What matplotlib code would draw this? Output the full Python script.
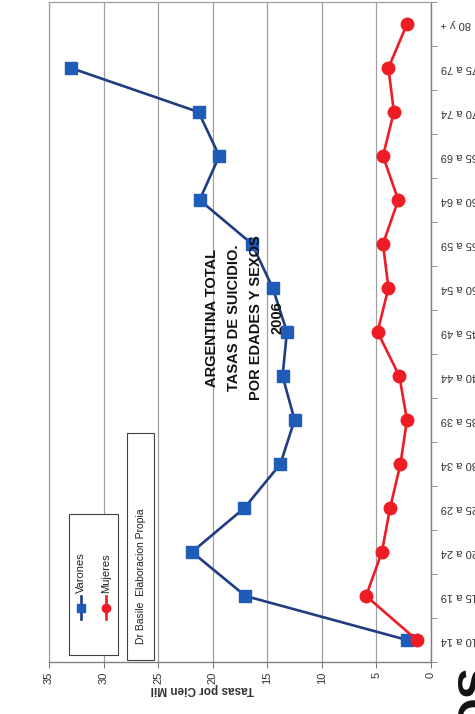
import numpy as np
import matplotlib
matplotlib.use('Agg')
import matplotlib.pyplot as plt
from matplotlib.lines import Line2D
from matplotlib.patches import Rectangle

plt.rcParams['font.family'] = ['Liberation Sans', 'DejaVu Sans']

categories = ['10 a 14', '15 a 19', '20 a 24', '25 a 29', '30 a 34', '35 a 39',
              '40 a 44', '45 a 49', '50 a 54', '55 a 59', '60 a 64', '65 a 69',
              '70 a 74', '75 a 79', '80 y +']
varones = [2.2, 17.0, 21.9, 17.1, 13.8, 12.5, 13.6, 13.2, 14.5, 16.4, 21.2, 19.4,
           21.3, 33.0, np.nan]
mujeres = [1.3, 5.95, 4.5, 3.75, 2.8, 2.2, 2.9, 4.9, 3.9, 4.4, 3.0, 4.4, 3.4, 3.9, 2.2]
value_ticks = [0, 5, 10, 15, 20, 25, 30, 35]
title_lines = ['ARGENTINA TOTAL', 'TASAS DE SUICIDIO.', 'POR EDADES Y SEXOS', '2006']
series_names = ['Varones', 'Mujeres']
axis_label = 'Tasas por Cien Mil'
note = 'Dr Basile  Elaboracion Propia'

BLUE_LINE = '#1f3c80'
BLUE_MK = '#1f5cb8'
RED = '#ee1c25'

W, H = 475, 714
fig = plt.figure(figsize=(W / 100, H / 100), dpi=100)


def fx(x):
    return x / W


def fy(y):
    return 1 - y / H


ax = fig.add_axes([fx(49), fy(662), fx(431) - fx(49), fy(2) - fy(662)])
pos = np.arange(len(categories))
ax.plot(varones, pos, color=BLUE_LINE, lw=1.9, marker='s', markersize=8.5,
        markerfacecolor=BLUE_MK, markeredgecolor=BLUE_MK, zorder=3)
ax.plot(mujeres, pos, color=RED, lw=1.9, marker='o', markersize=9,
        markerfacecolor=RED, markeredgecolor=RED, zorder=4)

ax.set_xlim(35, 0)
ax.set_ylim(-0.5, len(categories) - 0.5)
ax.set_xticks(value_ticks)
ax.set_xticklabels([str(v) for v in value_ticks], rotation=90, fontsize=8, color='#333333')
ax.xaxis.grid(True, color='#a0a0a0', lw=0.9)
ax.set_axisbelow(True)
ax.tick_params(axis='x', length=4, direction='out', pad=3, color='#808080')

ax.yaxis.tick_right()
ax.set_yticks(pos)
ax.set_yticklabels(categories, rotation=180, ha='left', va='center', fontsize=8, color='#333333')
ax.tick_params(axis='y', which='major', length=0, pad=7)
ax.set_yticks(np.arange(-0.5, len(categories)), minor=True)
ax.tick_params(axis='y', which='minor', length=4, direction='out', color='#808080')

for s in ['right', 'bottom']:
    ax.spines[s].set_color('#808080')
    ax.spines[s].set_linewidth(1.0)
for s in ['top', 'left']:
    ax.spines[s].set_color('#a0a0a0')
    ax.spines[s].set_linewidth(0.9)

fig.text(fx(202), fy(689), axis_label, rotation=180, ha='center', va='center',
         fontsize=8.5, fontweight='bold', color='#333333')

fig.text(fx(245), fy(318), '\n'.join(title_lines), rotation=90, ha='center', va='center',
         multialignment='center', fontsize=10.5, fontweight='bold', linespacing=1.7,
         color='#111111')

# legend (rotated)
fig.add_artist(Rectangle((fx(69), fy(655)), fx(118) - fx(69), fy(514) - fy(655),
                         transform=fig.transFigure, facecolor='white',
                         edgecolor='#404040', lw=0.8, zorder=5))
for name, xp, lc, mc, mk in [(series_names[0], 81, BLUE_LINE, BLUE_MK, 's'),
                             (series_names[1], 106, RED, RED, 'o')]:
    fig.add_artist(Line2D([fx(xp)] * 3, [fy(619), fy(607.5), fy(596)],
                          transform=fig.transFigure, color=lc, lw=1.9, marker=mk,
                          markevery=[1], markersize=6, markerfacecolor=mc,
                          markeredgecolor=mc, zorder=6))
    fig.text(fx(xp), fy(593), name, rotation=90, ha='center', va='bottom',
             fontsize=8, color='#222222', zorder=7)

# note box
fig.add_artist(Rectangle((fx(127), fy(660)), fx(154) - fx(127), fy(433) - fy(660),
                         transform=fig.transFigure, facecolor='white',
                         edgecolor='#404040', lw=0.8, zorder=5))
fig.text(fx(140.5), fy(644), note, rotation=90, ha='center', va='bottom',
         fontsize=7.5, color='#222222', zorder=7)

fig.text(fx(455), fy(665), 'OS', rotation=90, ha='left', va='top', fontsize=34,
         fontweight='bold', color='#111111')

fig.savefig('out.png', dpi=100)
